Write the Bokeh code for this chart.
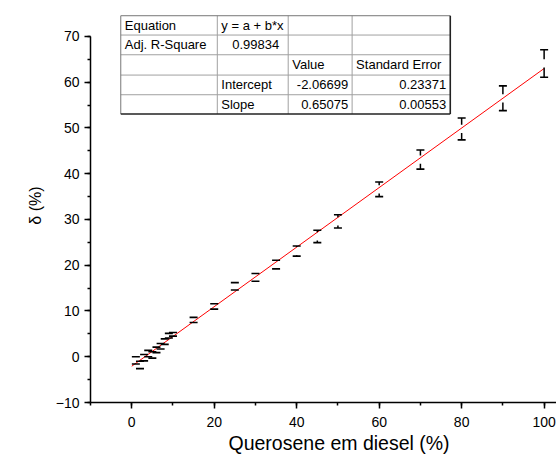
from bokeh.plotting import figure
from bokeh.models import SingleIntervalTicker, Title
from bokeh.core.properties import value
from bokeh.embed import file_html
from bokeh.resources import INLINE

# ---- data ----
conc = [1, 2, 3, 4, 5, 6, 7, 8, 9, 10, 15, 20, 25, 30, 35, 40, 45, 50, 60, 70, 80, 90, 100]
delta = [-0.8, -1.8, -0.2, 0.7, 0.4, 1.5, 2.3, 3.3, 4.6, 4.9, 8.05, 11.0, 15.4, 17.35,
         20.15, 23.1, 26.3, 29.6, 36.6, 43.1, 49.8, 56.5, 64.1]
delta_err = [0.8, 0.8, 0.7, 0.7, 0.7, 0.6, 0.6, 0.6, 0.5, 0.4, 0.55, 0.6, 0.8, 0.85,
             0.95, 1.1, 1.35, 1.45, 1.6, 2.1, 2.4, 2.7, 3.0]

fit_intercept = -2.06699
fit_slope = 0.65075
fit_x = [0, 100]

x_ticks_interval = 20
y_ticks_interval = 10

table_cells = [
    # (text, column, row, align)
    ("Equation", 0, 0, "left"),
    ("y = a + b*x", 1, 0, "left"),
    ("Adj. R-Square", 0, 1, "left"),
    ("0.99834", 1, 1, "right"),
    ("Value", 2, 2, "left"),
    ("Standard Error", 3, 2, "left"),
    ("Intercept", 1, 3, "left"),
    ("-2.06699", 2, 3, "right"),
    ("0.23371", 3, 3, "right"),
    ("Slope", 1, 4, "left"),
    ("0.65075", 2, 4, "right"),
    ("0.00553", 3, 4, "right"),
]

# ---- figure ----
p = figure(width=556, height=458, x_range=(-10, 103), y_range=(-10, 76.12),
           output_backend="svg", toolbar_location=None,
           min_border_left=90, min_border_right=0, min_border_top=8, min_border_bottom=56)
p.outline_line_color = None
p.xgrid.visible = False
p.ygrid.visible = False
p.background_fill_color = "white"

FONT = "Liberation Sans"

p.xaxis.ticker = SingleIntervalTicker(interval=x_ticks_interval, num_minor_ticks=2)
p.yaxis.ticker = SingleIntervalTicker(interval=y_ticks_interval, num_minor_ticks=2)
p.yaxis.bounds = (-10, 70)
for ax in (p.xaxis, p.yaxis):
    ax.axis_line_width = 1.5
    ax.axis_line_color = "black"
    ax.major_tick_in = 0
    ax.major_tick_out = 6
    ax.minor_tick_in = 0
    ax.minor_tick_out = 3
    ax.major_tick_line_width = 1.5
    ax.minor_tick_line_width = 1.5
    ax.major_tick_line_color = "black"
    ax.minor_tick_line_color = "black"
    ax.major_label_text_font = FONT
    ax.major_label_text_font_size = "14px"
    ax.major_label_text_color = "black"
p.yaxis.major_label_standoff = 5
p.xaxis.major_label_standoff = 8

p.yaxis.axis_label = "δ (%)"
p.yaxis.axis_label_text_font = FONT
p.yaxis.axis_label_text_font_size = "16px"
p.yaxis.axis_label_text_font_style = "normal"
p.yaxis.axis_label_text_color = "black"
p.yaxis.axis_label_standoff = 9

p.add_layout(Title(text="Querosene em diesel (%)", align="left", offset=138,
                   text_font=FONT, text_font_size="19.5px", text_font_style="normal",
                   text_color="black", standoff=0), "below")

# ---- fit line ----
fit_y = [fit_intercept + fit_slope * xv for xv in fit_x]
p.line(fit_x, fit_y, line_color="#ff0000", line_width=1)

# ---- error bars (with gap where the symbol would be) ----
gap = 0.9
sx, sy0, sy1 = [], [], []
for xv, yv, ev in zip(conc, delta, delta_err):
    if ev > gap:
        sx += [xv, xv]
        sy0 += [yv + gap, yv - gap]
        sy1 += [yv + ev, yv - ev]
p.segment(x0=sx, y0=sy0, x1=sx, y1=sy1, line_color="black", line_width=1.5)
p.dash(x=conc, y=[yv + ev for yv, ev in zip(delta, delta_err)], size=8,
       line_color="black", line_width=1.6)
p.dash(x=conc, y=[yv - ev for yv, ev in zip(delta, delta_err)], size=8,
       line_color="black", line_width=1.6)

# ---- fit table ----
col_edges = [-2.66, 20.75, 37.94, 53.44, 77.24]
row_edges = [74.54, 70.32, 66.01, 61.57, 57.27, 53.05]

for xe in col_edges[1:-1]:
    p.line([xe, xe], [row_edges[0], row_edges[-1]], line_color="#a0a0a0", line_width=1)
for ye in row_edges[1:-1]:
    p.line([col_edges[0], col_edges[-1]], [ye, ye], line_color="#a0a0a0", line_width=1)
p.line([col_edges[0], col_edges[0]], [row_edges[0], row_edges[-1]], line_color="#777777", line_width=1)
p.line([col_edges[0], col_edges[-1]], [row_edges[0], row_edges[0]], line_color="#777777", line_width=1)
p.line([col_edges[-1], col_edges[-1]], [row_edges[0], row_edges[-1]], line_color="#222222", line_width=1.6)
p.line([col_edges[0], col_edges[-1]], [row_edges[-1], row_edges[-1]], line_color="#222222", line_width=1.6)

for txt, c, r, al in table_cells:
    ymid = (row_edges[r] + row_edges[r + 1]) / 2
    if al == "left":
        xv, off = col_edges[c], 4
    else:
        xv, off = col_edges[c + 1], (-9 if c == 1 else -4)
    p.text(x=[xv], y=[ymid], text=[txt], text_align=al, text_baseline="middle",
           x_offset=off, text_font=value(FONT), text_font_size="13px", text_color="black")

open("out.html", "w").write(file_html(p, INLINE))
